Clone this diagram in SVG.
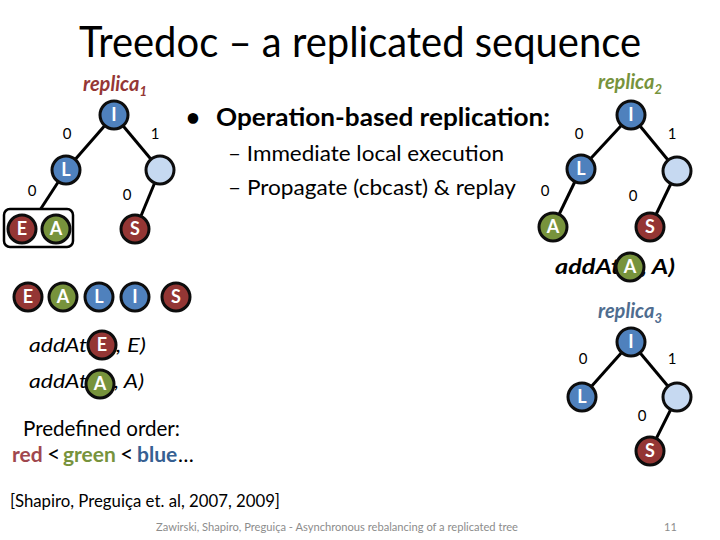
<svg xmlns="http://www.w3.org/2000/svg" width="720" height="540" viewBox="0 0 720 540">
<style>
text{font-family:Lato,"Liberation Sans",sans-serif;}
.edge{stroke:#000;stroke-width:3;fill:none}
.nd{stroke:#0d0d0d;stroke-width:3}
.blue{fill:#4F81BD}
.light{fill:#C6D9F1}
.red{fill:#943634}
.green{fill:#77933C}
.lt{fill:#fff;font-weight:bold;font-size:18px;text-anchor:middle}
.bl{font-size:15px;fill:#000;text-anchor:middle}
.rep{font-style:italic;font-weight:bold;font-size:20px;text-anchor:middle}
.op{font-style:italic;font-size:20px;fill:#000}
.ob{font-style:italic;font-weight:bold;font-size:20px;fill:#000}
</style>
<rect width="720" height="540" fill="#fff"/>
<text x="360" y="57" font-size="42" text-anchor="middle" textLength="562" lengthAdjust="spacingAndGlyphs">Treedoc – a replicated sequence</text>

<g id="replica1-label"><text x="115" y="91" class="rep" fill="#953735">replica<tspan font-size="13" dy="5">1</tspan></text></g>
<g id="connectors">
<line class="edge" x1="114" y1="115" x2="66" y2="170"/>
<line class="edge" x1="114" y1="115" x2="160" y2="170"/>
<line class="edge" x1="66" y1="170" x2="40" y2="210"/>
<line class="edge" x1="160" y1="170" x2="136" y2="228"/>
<line class="edge" x1="631" y1="115" x2="581" y2="169"/>
<line class="edge" x1="631" y1="115" x2="677" y2="171"/>
<line class="edge" x1="581" y1="169" x2="553" y2="227"/>
<line class="edge" x1="677" y1="171" x2="650" y2="227"/>
<line class="edge" x1="631" y1="342" x2="582" y2="397"/>
<line class="edge" x1="631" y1="342" x2="677" y2="397"/>
<line class="edge" x1="677" y1="397" x2="650" y2="451"/>
</g>
<g id="edge-labels">
<text class="bl" x="67" y="139">0</text>
<text class="bl" x="155" y="139">1</text>
<text class="bl" x="32" y="196">0</text>
<text class="bl" x="127" y="200">0</text>
<text class="bl" x="579" y="139">0</text>
<text class="bl" x="672" y="139">1</text>
<text class="bl" x="545" y="196">0</text>
<text class="bl" x="633" y="201">0</text>
<text class="bl" x="583" y="364">0</text>
<text class="bl" x="672" y="364">1</text>
<text class="bl" x="642" y="421">0</text>
</g>
<g id="r1-I"><circle class="nd blue" cx="114" cy="115" r="14"/><text class="lt" x="114" y="121">I</text></g>
<g id="r1-L"><circle class="nd blue" cx="66" cy="170" r="14"/><text class="lt" x="66" y="176">L</text></g>
<g id="r1-R"><circle class="nd light" cx="160" cy="170" r="14"/></g>
<g id="r1-EA"><rect x="4" y="209" width="69" height="38" rx="6" fill="#fff" stroke="#000" stroke-width="2.5"/></g>
<g id="r1-E"><circle class="nd red" cx="22" cy="229" r="14"/><text class="lt" x="22" y="235">E</text></g>
<g id="r1-A"><circle class="nd green" cx="56" cy="229" r="14"/><text class="lt" x="56" y="235">A</text></g>
<g id="r1-S"><circle class="nd red" cx="135" cy="229" r="14"/><text class="lt" x="135" y="235">S</text></g>

<g id="replica2-label"><text x="630" y="89" class="rep" fill="#77933C">replica<tspan font-size="13" dy="5">2</tspan></text></g>
<g id="r2-I"><circle class="nd blue" cx="631" cy="115" r="14"/><text class="lt" x="631" y="121">I</text></g>
<g id="r2-L"><circle class="nd blue" cx="581" cy="169" r="14"/><text class="lt" x="581" y="175">L</text></g>
<g id="r2-R"><circle class="nd light" cx="677" cy="171" r="14"/></g>
<g id="r2-A"><circle class="nd green" cx="553" cy="227" r="14"/><text class="lt" x="553" y="233">A</text></g>
<g id="r2-S"><circle class="nd red" cx="650" cy="227" r="14"/><text class="lt" x="650" y="233">S</text></g>
<g id="r2-op">
<text class="ob" x="555" y="274" textLength="72" lengthAdjust="spacingAndGlyphs">addAt(</text>
<text class="ob" x="641" y="274" textLength="34" lengthAdjust="spacingAndGlyphs">, A)</text>
<circle class="nd green" cx="630" cy="267" r="14"/><text class="lt" x="630" y="273">A</text>
</g>

<g id="replica3-label"><text x="630" y="318" class="rep" fill="#4F6D8F">replica<tspan font-size="13" dy="5">3</tspan></text></g>
<g id="r3-I"><circle class="nd blue" cx="631" cy="342" r="14"/><text class="lt" x="631" y="348">I</text></g>
<g id="r3-L"><circle class="nd blue" cx="582" cy="397" r="14"/><text class="lt" x="582" y="403">L</text></g>
<g id="r3-R"><circle class="nd light" cx="677" cy="397" r="14"/></g>
<g id="r3-S"><circle class="nd red" cx="650" cy="451" r="14"/><text class="lt" x="650" y="457">S</text></g>

<g id="bullets">
<text x="186" y="126" font-size="24" font-weight="bold">•</text>
<text x="216" y="126" font-size="25" font-weight="bold" textLength="334" lengthAdjust="spacingAndGlyphs">Operation-based replication:</text>
<text x="228" y="161" font-size="22" textLength="276" lengthAdjust="spacingAndGlyphs">– Immediate local execution</text>
<text x="228" y="195" font-size="22" textLength="288" lengthAdjust="spacingAndGlyphs">– Propagate (cbcast) &amp; replay</text>
</g>

<g id="seq-E"><circle class="nd red" cx="28" cy="297" r="14"/><text class="lt" x="28" y="303">E</text></g>
<g id="seq-A"><circle class="nd green" cx="63" cy="297" r="14"/><text class="lt" x="63" y="303">A</text></g>
<g id="seq-L"><circle class="nd blue" cx="99" cy="297" r="14"/><text class="lt" x="99" y="303">L</text></g>
<g id="seq-I"><circle class="nd blue" cx="135" cy="297" r="14"/><text class="lt" x="135" y="303">I</text></g>
<g id="seq-S"><circle class="nd red" cx="176" cy="297" r="14"/><text class="lt" x="176" y="303">S</text></g>

<g id="op1">
<text class="op" x="29" y="352" textLength="64" lengthAdjust="spacingAndGlyphs">addAt(</text>
<text class="op" x="116" y="352" textLength="30" lengthAdjust="spacingAndGlyphs">, E)</text>
<circle class="nd red" cx="102" cy="345" r="14"/><text class="lt" x="102" y="351">E</text>
</g>
<g id="op2">
<text class="op" x="29" y="388" textLength="64" lengthAdjust="spacingAndGlyphs">addAt(</text>
<text class="op" x="114" y="388" textLength="30" lengthAdjust="spacingAndGlyphs">, A)</text>
<circle class="nd green" cx="100" cy="384" r="14"/><text class="lt" x="100" y="390">A</text>
</g>

<g id="order">
<text x="23" y="436" font-size="21" textLength="157" lengthAdjust="spacingAndGlyphs">Predefined order:</text>
<text x="12" y="462" font-size="21" font-weight="bold" fill="#A0474E">red</text>
<text x="47" y="462" font-size="23">&lt;</text>
<text x="63" y="462" font-size="21" font-weight="bold" fill="#77933C">green</text>
<text x="120" y="462" font-size="23">&lt;</text>
<text x="137" y="462" font-size="21" font-weight="bold" fill="#366092">blue</text>
<text x="178" y="462" font-size="21">…</text>
</g>
<text x="10" y="507" font-size="17" textLength="270" lengthAdjust="spacingAndGlyphs">[Shapiro, Preguiça et. al, 2007, 2009]</text>
<text x="156" y="531" font-size="11" fill="#8c8c8c" textLength="362" lengthAdjust="spacingAndGlyphs">Zawirski, Shapiro, Preguiça - Asynchronous rebalancing of a replicated tree</text>
<text x="664" y="531" font-size="11" fill="#8c8c8c">11</text>
</svg>
